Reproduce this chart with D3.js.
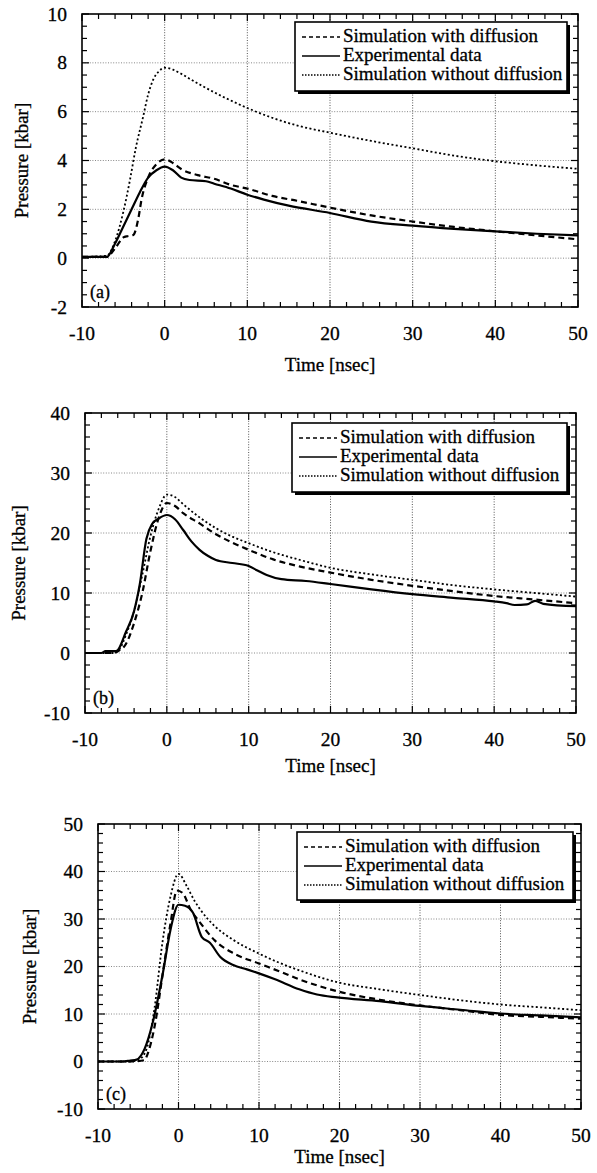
<!DOCTYPE html>
<html>
<head>
<meta charset="utf-8">
<script src="https://cdn.jsdelivr.net/npm/d3@7"></script>
<style>
  body { margin: 0; background: #fff; }
  svg { display: block; }
  text { font-family: "Liberation Serif", "Times New Roman", serif; fill: #000; stroke: #000; stroke-width: 0.3; }
</style>
</head>
<body>
<svg id="chart" width="597" height="1173"></svg>
<script>
// series: [time ns, pressure kbar]
const expA = [[-10,0.05],[-7,0.05],[-6,0.6],[-5,1.3],[-4,2.0],[-3,2.7],[-2,3.3],[-1,3.6],[0,3.75],[1,3.6],[2,3.3],[3,3.2],[5,3.15],[6,3.05],[8,2.85],[10,2.6],[12,2.4],[15,2.15],[20,1.85],[25,1.5],[30,1.33],[35,1.2],[40,1.1],[45,1.0],[50,0.93]];
const dashA = [[-10,0.05],[-7,0.05],[-6,0.4],[-5,0.85],[-4.5,0.9],[-3.8,0.95],[-3.2,1.6],[-2.8,2.4],[-2,3.3],[-1,3.85],[0,4.05],[1,3.9],[2,3.65],[4,3.4],[6,3.25],[8,3.0],[10,2.85],[13,2.55],[16,2.35],[20,2.07],[25,1.75],[30,1.5],[35,1.28],[40,1.1],[45,0.93],[50,0.77]];
const dotA = [[-10,0.05],[-7,0.1],[-6,0.7],[-5,1.9],[-4.2,3.2],[-3.5,4.5],[-2.6,5.8],[-2,6.7],[-1.4,7.3],[-0.7,7.65],[0,7.8],[1,7.72],[2,7.55],[3,7.35],[4.3,7.1],[7,6.62],[10,6.15],[13,5.75],[16.4,5.4],[20,5.14],[25,4.8],[30,4.5],[35,4.2],[40,3.97],[45,3.8],[50,3.66]];

const expB = [[-10,0],[-8,0],[-7.5,0.3],[-6.2,0.3],[-5,3.5],[-4,7],[-3.3,11.5],[-2.5,19],[-1.8,21.5],[-1,22.4],[0,23],[1,22.3],[2,20.5],[3,18.6],[4,17.2],[5,16.2],[6,15.5],[8,15],[10,14.5],[11,13.8],[12.2,13],[14,12.3],[17,12],[20,11.5],[25,10.6],[30,9.8],[35,9.2],[40,8.6],[41.5,8.3],[42.5,8.0],[44,8.1],[45,8.7],[46,8.2],[50,7.8]];
const dashB = [[-10,0],[-6.5,0],[-6,0.3],[-5,1.5],[-4,5],[-3,10],[-2,17],[-1,22.5],[0,25],[1,24.5],[2,23.3],[4,21.6],[6,19.8],[8,18.4],[10,17.2],[13,15.6],[16.3,14.4],[20,13.4],[25,12.2],[30,11.2],[35,10.3],[40,9.5],[45,8.9],[50,8.3]];
const dotB = [[-10,0],[-6.5,0],[-5.7,0.8],[-5,3],[-4,7],[-3,13],[-2,19.5],[-1,24],[0,26.4],[1,26],[2,24.8],[4,22.6],[6,20.8],[8,19.4],[10,18.3],[13,16.8],[16.3,15.5],[20,14.2],[25,13.1],[30,12.2],[35,11.3],[40,10.6],[45,10],[50,9.4]];

const expC = [[-10,0],[-7,0],[-6,0.2],[-5.2,0.4],[-4.2,2.7],[-3.2,8.2],[-1.9,19],[-1,27.7],[0,33],[0.8,32.8],[1.8,31.3],[2.9,26.2],[3.9,25],[5.2,22],[6.8,20.3],[8.5,19.4],[9.9,18.6],[12,17.3],[15,15.2],[17.2,14.1],[19.7,13.5],[25,12.7],[30,11.7],[35,10.9],[40,10.1],[45,9.7],[50,9.3]];
const dashC = [[-10,0],[-6,0],[-4.2,0.3],[-3.9,1.3],[-2.9,8],[-2,18],[-1,29],[-0.2,36],[0.5,35.5],[1.5,32],[2.7,29.2],[4.5,25.5],[6.8,22.8],[9.9,20.7],[12.5,19],[15,17.3],[19.7,14.8],[25,13],[30,11.8],[35,10.8],[40,9.8],[45,9.4],[50,9.0]];
const dotC = [[-10,0],[-6,0],[-5,0.3],[-4,2.5],[-3,11],[-2,25],[-1,34.7],[0,39.5],[1,37],[2,33.8],[2.7,32],[4.5,28.5],[6.8,25.6],[9.9,22.8],[12.5,20.8],[15,19.2],[19.7,16.7],[25,15.2],[30,14],[35,12.9],[40,12],[45,11.4],[50,10.8]];

const xTicks = [-10, 0, 10, 20, 30, 40, 50];
const legendLabels = ['Simulation with diffusion', 'Experimental data', 'Simulation without diffusion'];

const styles = {
  dash: { w: 2.2, da: '6,4' },
  exp:  { w: 2.2, da: null },
  dot:  { w: 1.8, da: '2,2.4' }
};

const panels = [
  { tag: '(a)', series: { dash: dashA, exp: expA, dot: dotA }, yDom: [-2, 10], yStep: 2, yMinor: 0.5,
    l: 82, r: 578, t: 14, b: 307, leg: [295, 22, 272, 69], ytx: 22, tTitle: 64 },
  { tag: '(b)', series: { dash: dashB, exp: expB, dot: dotB }, yDom: [-10, 40], yStep: 10, yMinor: 2,
    l: 85, r: 576, t: 413, b: 713, leg: [292, 423, 275, 69], ytx: 19, tTitle: 59 },
  { tag: '(c)', series: { dash: dashC, exp: expC, dot: dotC }, yDom: [-10, 50], yStep: 10, yMinor: 2,
    l: 98, r: 581, t: 824, b: 1109, leg: [297, 832, 276, 68], ytx: 30, tTitle: 54 }
];

const svg = d3.select('#chart');

panels.forEach(p => {
  const x = d3.scaleLinear().domain([-10, 50]).range([p.l, p.r]);
  const y = d3.scaleLinear().domain(p.yDom).range([p.b, p.t]);
  const g = svg.append('g');
  const yTicks = d3.range(p.yDom[0], p.yDom[1] + 1e-9, p.yStep);
  const xMinor = d3.range(-10, 50.001, 2);
  const yMinor = d3.range(p.yDom[0], p.yDom[1] + 1e-9, p.yMinor);

  // dotted grid
  g.append('g').selectAll('line.gx').data(xTicks.slice(1, -1)).join('line')
    .attr('x1', d => x(d)).attr('x2', d => x(d)).attr('y1', p.t).attr('y2', p.b)
    .attr('stroke', '#555').attr('stroke-width', 1).attr('stroke-dasharray', '1,1.6');
  g.append('g').selectAll('line.gy').data(yTicks.slice(1, -1)).join('line')
    .attr('y1', d => y(d)).attr('y2', d => y(d)).attr('x1', p.l).attr('x2', p.r)
    .attr('stroke', '#888').attr('stroke-width', 1).attr('stroke-dasharray', '1,1.6');

  // inward ticks on all four sides
  const tk = g.append('g').attr('stroke', '#000').attr('stroke-width', 1.2);
  xMinor.forEach(v => {
    const len = xTicks.includes(v) ? 7 : 5;
    tk.append('line').attr('x1', x(v)).attr('x2', x(v)).attr('y1', p.b).attr('y2', p.b - len);
    tk.append('line').attr('x1', x(v)).attr('x2', x(v)).attr('y1', p.t).attr('y2', p.t + len);
  });
  yMinor.forEach(v => {
    const len = yTicks.some(t => Math.abs(t - v) < 1e-9) ? 7 : 5;
    tk.append('line').attr('y1', y(v)).attr('y2', y(v)).attr('x1', p.l).attr('x2', p.l + len);
    tk.append('line').attr('y1', y(v)).attr('y2', y(v)).attr('x1', p.r).attr('x2', p.r - len);
  });

  // curves
  const line = d3.line().x(d => x(d[0])).y(d => y(d[1])).curve(d3.curveMonotoneX);
  ['dot', 'dash', 'exp'].forEach(k => {
    g.append('path').datum(p.series[k]).attr('d', line).attr('fill', 'none')
      .attr('stroke', '#000').attr('stroke-width', styles[k].w)
      .attr('stroke-dasharray', styles[k].da).attr('stroke-linejoin', 'round');
  });

  // frame
  g.append('rect').attr('x', p.l).attr('y', p.t).attr('width', p.r - p.l).attr('height', p.b - p.t)
    .attr('fill', 'none').attr('stroke', '#000').attr('stroke-width', 1.6);

  // tick labels
  g.append('g').selectAll('text').data(yTicks).join('text')
    .attr('x', p.l - 15).attr('y', d => y(d) + 6.5).attr('text-anchor', 'end')
    .attr('font-size', 19.5).text(d => d);
  g.append('g').selectAll('text').data(xTicks).join('text')
    .attr('x', d => x(d)).attr('y', p.b + 33).attr('text-anchor', 'middle')
    .attr('font-size', 19.5).text(d => d);

  g.append('text').attr('x', (p.l + p.r) / 2).attr('y', p.b + p.tTitle).attr('text-anchor', 'middle')
    .attr('font-size', 19).text('Time [nsec]');
  g.append('text').attr('transform', `translate(${p.ytx + 6},${(p.t + p.b) / 2}) rotate(-90)`)
    .attr('text-anchor', 'middle').attr('font-size', 19).text('Pressure [kbar]');
  g.append('text').attr('x', p.l + 8).attr('y', p.b - 9).attr('font-size', 18).text(p.tag);

  // legend with drop shadow
  const [lx, ly, lw, lh] = p.leg;
  g.append('rect').attr('x', lx + 3).attr('y', ly + 3).attr('width', lw).attr('height', lh).attr('fill', '#000');
  g.append('rect').attr('x', lx).attr('y', ly).attr('width', lw).attr('height', lh)
    .attr('fill', '#fff').attr('stroke', '#000').attr('stroke-width', 1.6);
  ['dash', 'exp', 'dot'].forEach((k, i) => {
    const by = ly + 20 + i * 19;
    g.append('line').attr('x1', lx + 7).attr('x2', lx + 45).attr('y1', by - 5).attr('y2', by - 5)
      .attr('stroke', '#000').attr('stroke-width', k === 'exp' ? 1.6 : 1.3)
      .attr('stroke-dasharray', k === 'dash' ? '4,3' : k === 'dot' ? '1.5,1.5' : null);
    g.append('text').attr('x', lx + 48).attr('y', by).attr('font-size', 19).text(legendLabels[i]);
  });
});
</script>
</body>
</html>
